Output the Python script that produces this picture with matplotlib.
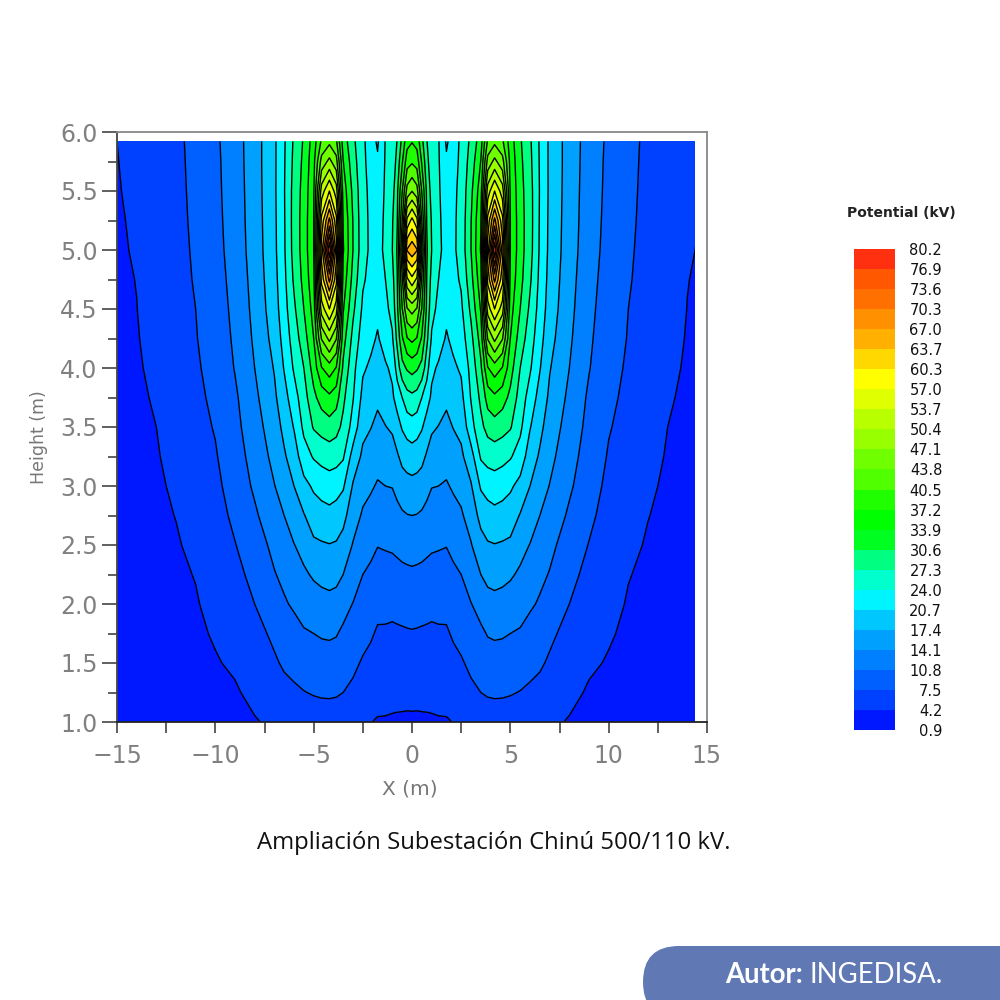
import numpy as np
import matplotlib
matplotlib.use('Agg')
import matplotlib.pyplot as plt
from matplotlib.colors import ListedColormap, BoundaryNorm
from matplotlib.patches import Rectangle, FancyBboxPatch

plt.rcParams['font.family'] = 'DejaVu Sans'

#Legend levels (kV), bottom to top
levels = [0.9,4.2,7.5,10.8,14.1,17.4,20.7,24.0,27.3,30.6,33.9,37.2,40.5,43.8,47.1,
	50.4,53.7,57.0,60.3,63.7,67.0,70.3,73.6,76.9,80.2]
band_colors = ['#0018ff','#0040ff','#0060ff','#0080ff','#00a0ff','#00c8ff','#00f4ff','#00ffcc',
	'#00ff80','#00ff20','#00ff00','#20ff00','#50ff00','#70ff00','#98ff00','#b8ff00',
	'#e0ff00','#ffff00','#ffd800','#ffb000','#ff9000','#ff7000','#ff5800','#ff3010']

#Heights where the field was read
heights = [1,1.25,1.5,1.75,2,2.25,2.5,2.75,3,3.25,3.5,3.75,4,4.25,4.5,4.75,5,5.25,5.5,5.75,5.92]

#Potential, one column per distance from the centre
dist = [0,0.25,0.5,0.75,1,1.35,1.75,2.1,2.5,3,3.5,3.85,4.2,4.6,5,5.5,6,6.5,7,8,9,10,11,12,13,14,15]
pot_columns = [
[3.8,4.9,6.1,7.3,8.7,10.3,12.1,14.1,16.4,19.2,22.5,26.5,31.8,38,45,56,66,58,47,40,37],
[3.8,4.85,6.05,7.25,8.6,10.2,12,14,16.2,18.9,22,26,31,37,43.5,53,64,54.5,45,39,36],
[3.85,4.85,6,7.2,8.4,10,11.9,13.7,15.8,18.3,21,24,29.5,33.5,37,40,44,40.5,37,33.5,31.5],
[3.9,4.8,5.95,7.15,8.25,9.75,11.6,13.2,15,17,19.4,22,25.5,28.2,30,30.5,31,30.5,30,28.5,27.5],
[3.95,4.8,5.9,7.1,8.1,9.5,11.3,12.8,14.2,15.9,17.9,20.2,21.3,23.6,25,26.2,27.3,27,26,25,24.5],
[4,4.95,6.2,7.2,8.15,9.55,11.1,12.6,14.1,15.7,17.3,19,20.3,22,23.2,24,24.6,24.5,24.4,24.3,24.2],
[4,5.1,6.4,7.2,8.2,9.6,10.9,12.3,13.8,15.2,16.6,18,19.2,20.4,21.4,22.3,23,22.8,22.2,21.1,20.3],
[4.25,5.4,6.8,7.8,8.9,10.2,11.6,13,14.5,16,17.5,19,20.2,21.4,22.4,23.1,23.4,23.4,23.2,22.5,22],
[4.6,5.9,7.2,8.4,9.6,10.8,12.3,13.7,15.1,16.8,18.2,19.8,21.1,22.4,23.4,24.4,25.2,25.1,25,24.9,24.8],
[5,6.9,8.1,9.5,10.7,12.5,13.9,15.5,17.1,19.3,22.8,24.2,25,26.3,28,29.5,30.6,30.5,29.8,28.7,28],
[5.6,7.5,8.9,10.2,12,14.1,16.2,18.4,21.1,24.4,26.5,28,30,32,34.2,36,37.5,37,35.8,34,32.5],
[5.9,7.8,9.3,11,12.9,15,17.1,19.3,22,25.2,28.4,32,37,44,52,58,62,58,52,45,41],
[6,7.9,9.5,11.2,13.1,15.3,17.3,19.7,22.5,25.4,29.2,33.2,39,48,57,68,80,68,57,48,43],
[6,7.85,9.4,11.1,12.9,15,17.1,19.4,22,25,28.5,32,37,44,52,58,62,58,52,45,41],
[5.9,7.7,9.2,10.8,12.6,14.5,16.8,19,21.2,24.3,27.6,29.8,32,33.9,35.2,36.3,37.2,37.2,36.8,36.2,35.6],
[5.9,7.4,9,10.5,12,13.6,15.2,17.2,19.7,22.6,24.7,25.9,27.3,29,30.6,31.6,32,32,31.8,31.4,31],
[5.7,7,8.4,9.5,11.3,12.7,14,15.8,17.4,19,20.9,22.6,24.4,25.6,26.7,27.8,28.5,28.6,28.5,28.1,27.8],
[5.2,6.6,7.9,9,10.4,11.6,12.9,14.1,15.5,17,18.2,19.5,20.9,21.9,22.7,23.2,23.6,23.7,23.8,23.7,23.6],
[4.7,5.8,7.1,8.1,9.2,10.6,11.7,12.9,14,15,15.9,16.8,17.6,18.5,19.2,19.6,19.9,20,20.1,20.1,20.1],
[4,4.9,5.7,6.5,7.5,8.3,9.1,10.3,11.3,12,12.7,13.4,14.1,14.6,15,15.3,15.6,15.7,15.8,15.9,15.9],
[3.5,3.9,4.6,5.3,6,6.7,7.4,8.1,8.8,9.4,9.9,10.3,10.95,11.3,11.6,11.9,12.2,12.4,12.5,12.6,12.7],
[3.4,3.7,4,4.45,5,5.5,5.95,6.4,6.8,7.25,7.7,8.15,8.55,8.9,9.2,9.45,9.7,9.85,10,10.1,10.2],
[2.9,3.2,3.5,3.75,4,4.3,4.7,5.2,5.7,6.1,6.5,6.8,7.1,7.35,7.5,7.8,8,8.2,8.3,8.4,8.45],
[2.4,2.7,3,3.25,3.5,3.75,4,4.25,4.5,4.8,5.05,5.3,5.55,5.8,6,6.2,6.35,6.45,6.6,6.7,6.8],
[2,2.35,2.7,3,3.2,3.4,3.6,3.75,3.9,4.05,4.2,4.35,4.5,4.65,4.8,4.9,5,5.1,5.15,5.2,5.2],
[1.6,1.9,2.2,2.5,2.8,3,3.2,3.4,3.55,3.7,3.8,3.95,4.05,4.12,4.18,4.23,4.3,4.33,4.37,4.4,4.4],
[1.3,1.45,1.6,1.8,2,2.2,2.4,2.6,2.8,3,3.2,3.4,3.6,3.75,3.85,3.95,4.05,4.1,4.15,4.18,4.2],
]

x_ticks = [-15,-10,-5,0,5,10,15]
y_ticks = [1.0,1.5,2.0,2.5,3.0,3.5,4.0,4.5,5.0,5.5,6.0]

#The two sides of the section mirror each other
half = np.array(pot_columns).T
pot = np.concatenate((half[:,:0:-1],half),axis=1)
dist = np.array(dist)
x_grid = np.concatenate((-dist[:0:-1],dist))

cmap = ListedColormap(band_colors)
norm = BoundaryNorm(levels,cmap.N)

fig = plt.figure(figsize=(10,10),dpi=100)
ax = fig.add_axes([0.117,0.278,0.590,0.590])

cf = ax.contourf(x_grid,heights,pot,levels=levels,cmap=cmap,norm=norm)
cl = ax.contour(x_grid,heights,pot,levels=levels[1:-1],colors='black',linewidths=1.0)
#the calculation stops short of x=15
clip = Rectangle((-15,1),29.4,4.92,transform=ax.transData)
cf.set_clip_path(clip)
cl.set_clip_path(clip)

ax.set_xlim(-15,15)
ax.set_ylim(1,6)
ax.set_xticks(x_ticks)
ax.set_yticks(y_ticks)
ax.set_xticklabels(['\u221215','\u221210','\u22125','0','5','10','15'],fontsize=17,color='#808080')
ax.set_yticklabels(['%.1f'%v for v in y_ticks],fontsize=17,color='#808080')
ax.set_xticks(np.arange(-12.5,15,5),minor=True)
ax.set_yticks(np.arange(1.25,6,0.5),minor=True)
ax.tick_params(axis='x',which='both',length=8,width=1.2,color='#444444',pad=8)
ax.tick_params(axis='y',which='major',length=11,width=1.2,color='#444444',pad=3)
ax.tick_params(axis='y',which='minor',length=6.5,width=1.2,color='#444444')
ax.spines['top'].set_color('#888888')
ax.spines['right'].set_color('#888888')
ax.spines['left'].set_color('#444444')
ax.spines['bottom'].set_color('#222222')
for s in ax.spines.values():
	s.set_linewidth(1.3)
fig.text(0.410,0.211,'X (m)',ha='center',va='center',fontsize=14.5,color='#777777')
fig.text(0.039,0.563,'Height (m)',ha='center',va='center',rotation=90,fontsize=12.5,color='#777777')

#Legend bar
cax = fig.add_axes([0.854,0.270,0.041,0.481])
cb = fig.colorbar(cf,cax=cax,spacing='uniform',ticks=levels)
cb.set_ticklabels(['%.1f'%v for v in levels])
cb.ax.tick_params(length=0,labelsize=10.5,pad=34,labelcolor='#111111')
for t in cb.ax.get_yticklabels():
	t.set_ha('right')
cb.outline.set_visible(False)
cb.dividers.set_visible(False)
fig.text(0.901,0.787,'Potential (kV)',ha='center',va='center',fontsize=10,weight='bold',color='#222222')

fig.text(0.4935,0.157,'Ampliación Subestación Chinú 500/110 kV.',ha='center',va='center',
	fontsize=17.2,family='Open Sans',color='#111111')

#Author tag in the lower right corner
tag = FancyBboxPatch((0.643,-0.018),0.40,0.072,boxstyle='round,pad=0,rounding_size=0.036',
	transform=fig.transFigure,facecolor='#6079b5',edgecolor='none')
fig.add_artist(tag)
fig.text(0.725,0.025,'Autor:',ha='left',va='center',fontsize=19.8,family='Lato',weight='bold',color='white')
fig.text(0.810,0.025,'INGEDISA.',ha='left',va='center',fontsize=19.8,family='Lato',color='white')

fig.savefig('out.png',dpi=100)
plt.close()
